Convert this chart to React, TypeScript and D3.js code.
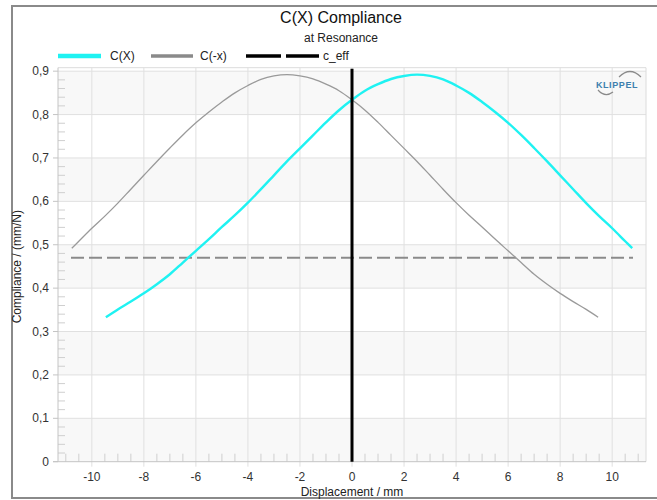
import { useEffect, useRef } from 'react'
import * as d3 from 'd3'

type Pt = [number, number]

// C(X) compliance, mm/N vs displacement mm
const cxData: Pt[] = [
  [-9.46, 0.333], [-9, 0.351], [-8.5, 0.369], [-8, 0.388], [-7.5, 0.409], [-7, 0.432],
  [-6.5, 0.459], [-6, 0.486], [-5.5, 0.513], [-5, 0.541], [-4.5, 0.568], [-4, 0.597],
  [-3.5, 0.628], [-3, 0.66], [-2.5, 0.692], [-2, 0.722], [-1.5, 0.752], [-1, 0.782],
  [-0.5, 0.81], [0, 0.834], [0.5, 0.855], [1, 0.87], [1.5, 0.882], [2, 0.889],
  [2.5, 0.892], [3, 0.889], [3.5, 0.881], [4, 0.867], [4.5, 0.85], [5, 0.829],
  [5.5, 0.806], [6, 0.781], [6.5, 0.753], [7, 0.723], [7.5, 0.692], [8, 0.66],
  [8.5, 0.628], [9, 0.596], [9.5, 0.566], [10, 0.538], [10.5, 0.508], [10.77, 0.492],
]

// C(-x)
const cmxData: Pt[] = [
  [-10.77, 0.492], [-10.5, 0.508], [-10, 0.538], [-9.5, 0.566], [-9, 0.596], [-8.5, 0.628],
  [-8, 0.66], [-7.5, 0.692], [-7, 0.723], [-6.5, 0.753], [-6, 0.781], [-5.5, 0.806],
  [-5, 0.829], [-4.5, 0.85], [-4, 0.867], [-3.5, 0.881], [-3, 0.889], [-2.5, 0.892],
  [-2, 0.889], [-1.5, 0.882], [-1, 0.87], [-0.5, 0.855], [0, 0.834], [0.5, 0.81],
  [1, 0.782], [1.5, 0.752], [2, 0.722], [2.5, 0.692], [3, 0.66], [3.5, 0.628],
  [4, 0.597], [4.5, 0.568], [5, 0.541], [5.5, 0.513], [6, 0.486], [6.5, 0.459],
  [7, 0.432], [7.5, 0.409], [8, 0.388], [8.5, 0.369], [9, 0.351], [9.46, 0.333],
]

const cEff = 0.47
const cEffRange: [number, number] = [-10.8, 10.8]
const restPosition = 0

const xTicks = [-10, -8, -6, -4, -2, 0, 2, 4, 6, 8, 10]
const yTicks = [0, 0.1, 0.2, 0.3, 0.4, 0.5, 0.6, 0.7, 0.8, 0.9]

const FONT = '"Liberation Sans", Arial, sans-serif'

export default function App() {
  const svgRef = useRef<SVGSVGElement>(null)

  useEffect(() => {
    if (!svgRef.current) return
    const width = 657
    const height = 500
    const left = 58, right = 646, top = 67.7, bottom = 461.7

    const svg = d3.select(svgRef.current)
    svg.selectAll('*').remove()
    svg.attr('width', width).attr('height', height)

    const x = d3.scaleLinear().domain([-11.3, 11.3]).range([left, right])
    const y = d3.scaleLinear().domain([0, 0.908]).range([bottom, top])

    // outer frame
    svg.append('rect')
      .attr('x', 12).attr('y', 6).attr('width', 700).attr('height', 492)
      .attr('fill', '#fff').attr('stroke', '#8a8a8a').attr('stroke-width', 2)

    // titles
    svg.append('text').attr('x', 341).attr('y', 23).attr('text-anchor', 'middle')
      .attr('font-family', FONT).attr('font-size', 16).attr('fill', '#111').text('C(X) Compliance')
    svg.append('text').attr('x', 341).attr('y', 42).attr('text-anchor', 'middle')
      .attr('font-family', FONT).attr('font-size', 12).attr('fill', '#222').text('at Resonance')

    // bands
    const bands = d3.range(0, 9, 2).map(i => yTicks[i])
    svg.append('g').selectAll('rect').data(bands).enter().append('rect')
      .attr('x', left).attr('width', right - left)
      .attr('y', d => y(d + 0.1)).attr('height', d => y(d) - y(d + 0.1))
      .attr('fill', '#f8f8f8')

    // grid
    svg.append('g').selectAll('line').data(yTicks.slice(1)).enter().append('line')
      .attr('x1', left).attr('x2', right).attr('y1', d => y(d)).attr('y2', d => y(d))
      .attr('stroke', '#e0e0e0').attr('stroke-width', 1)
    svg.append('g').selectAll('line').data(xTicks).enter().append('line')
      .attr('x1', d => x(d)).attr('x2', d => x(d)).attr('y1', top).attr('y2', bottom + 5)
      .attr('stroke', '#e0e0e0').attr('stroke-width', 1)

    // plot border top/right
    svg.append('path')
      .attr('d', `M${left},${top}H${right}V${bottom}`)
      .attr('fill', 'none').attr('stroke', '#dcdcdc')

    // minor ticks
    const xMinor = d3.range(-22, 23).map(i => i / 2).filter(v => !xTicks.includes(v) && x(v) > left + 2 && x(v) < right - 2)
    svg.append('g').selectAll('line').data(xMinor).enter().append('line')
      .attr('x1', d => x(d)).attr('x2', d => x(d)).attr('y1', bottom).attr('y2', bottom - 8)
      .attr('stroke', '#cfcfcf')
    const yMinor = d3.range(1, 46).map(i => i / 50).filter(v => Math.round(v * 50) % 5 !== 0 && y(v) > top)
    svg.append('g').selectAll('line').data(yMinor).enter().append('line')
      .attr('x1', left).attr('x2', left + 7).attr('y1', d => y(d)).attr('y2', d => y(d))
      .attr('stroke', '#cfcfcf')

    // axes lines
    svg.append('line').attr('x1', left).attr('x2', left).attr('y1', top).attr('y2', bottom)
      .attr('stroke', '#c4c4c4')
    svg.append('line').attr('x1', left - 5).attr('x2', right).attr('y1', bottom).attr('y2', bottom)
      .attr('stroke', '#c4c4c4')
    svg.append('g').selectAll('line').data(yTicks).enter().append('line')
      .attr('x1', left - 5).attr('x2', left).attr('y1', d => y(d)).attr('y2', d => y(d))
      .attr('stroke', '#c4c4c4')

    // tick labels
    svg.append('g').selectAll('text').data(yTicks).enter().append('text')
      .attr('x', 49).attr('y', d => y(d) + 4).attr('text-anchor', 'end')
      .attr('font-family', FONT).attr('font-size', 12).attr('fill', '#333')
      .text(d => (d === 0 ? '0' : d3.format('.1f')(d).replace('.', ',')))
    svg.append('g').selectAll('text').data(xTicks).enter().append('text')
      .attr('x', d => x(d)).attr('y', 481).attr('text-anchor', 'middle')
      .attr('font-family', FONT).attr('font-size', 12).attr('fill', '#333')
      .text(d => String(d))

    // axis titles
    svg.append('text').attr('x', (left + right) / 2).attr('y', 496).attr('text-anchor', 'middle')
      .attr('font-family', FONT).attr('font-size', 12).attr('fill', '#222').text('Displacement / mm')
    svg.append('text').attr('transform', `translate(21,${(top + bottom) / 2 + 2}) rotate(-90)`)
      .attr('text-anchor', 'middle')
      .attr('font-family', FONT).attr('font-size', 12).attr('fill', '#222').text('Compliance / (mm/N)')

    // KLIPPEL logo
    const logo = svg.append('g')
    logo.append('path')
      .attr('d', 'M619,77 Q630,66 641,77')
      .attr('fill', 'none').attr('stroke', '#8a8a8a').attr('stroke-width', 1.2)
    logo.append('path')
      .attr('d', 'M598,90 Q605,98 613,92')
      .attr('fill', 'none').attr('stroke', '#8a8a8a').attr('stroke-width', 1.2)
    logo.append('text').attr('x', 617).attr('y', 88).attr('text-anchor', 'middle')
      .attr('font-family', FONT).attr('font-size', 9).attr('font-weight', 'bold')
      .attr('letter-spacing', 0.6)
      .attr('fill', '#3d7fae').text('KLIPPEL')

    const line = d3.line<Pt>().x(d => x(d[0])).y(d => y(d[1])).curve(d3.curveCatmullRom)

    // c_eff
    svg.append('line')
      .attr('x1', x(cEffRange[0])).attr('x2', x(cEffRange[1]))
      .attr('y1', y(cEff)).attr('y2', y(cEff))
      .attr('stroke', '#8a8a8a').attr('stroke-width', 2).attr('stroke-dasharray', '13 5')

    svg.append('path').datum(cmxData)
      .attr('fill', 'none').attr('stroke', '#9a9a9a').attr('stroke-width', 1.3).attr('d', line)
    svg.append('path').datum(cxData)
      .attr('fill', 'none').attr('stroke', '#1ff2f2').attr('stroke-width', 2.4).attr('d', line)

    // rest position
    svg.append('line')
      .attr('x1', x(restPosition)).attr('x2', x(restPosition))
      .attr('y1', y(0)).attr('y2', top + 1)
      .attr('stroke', '#000').attr('stroke-width', 3)

    // legend
    const lg = svg.append('g').attr('font-family', FONT).attr('font-size', 12).attr('fill', '#222')
    const items = [
      { label: 'C(X)', color: '#1ff2f2', x0: 58, x1: 101, w: 4.5, dash: 'none', tx: 110 },
      { label: 'C(-x)', color: '#8a8a8a', x0: 151, x1: 193, w: 3.5, dash: 'none', tx: 200 },
      { label: 'c_eff', color: '#000', x0: 246, x1: 319, w: 3.5, dash: '35 5', tx: 323 },
    ]
    items.forEach(it => {
      lg.append('line').attr('x1', it.x0).attr('x2', it.x1).attr('y1', 56).attr('y2', 56)
        .attr('stroke', it.color).attr('stroke-width', it.w).attr('stroke-dasharray', it.dash)
      lg.append('text').attr('x', it.tx).attr('y', 60).text(it.label)
    })
  }, [])

  return (
    <div style={{ position: 'absolute', left: 0, top: 0 }}>
      <svg ref={svgRef} style={{ display: 'block' }} />
    </div>
  )
}
